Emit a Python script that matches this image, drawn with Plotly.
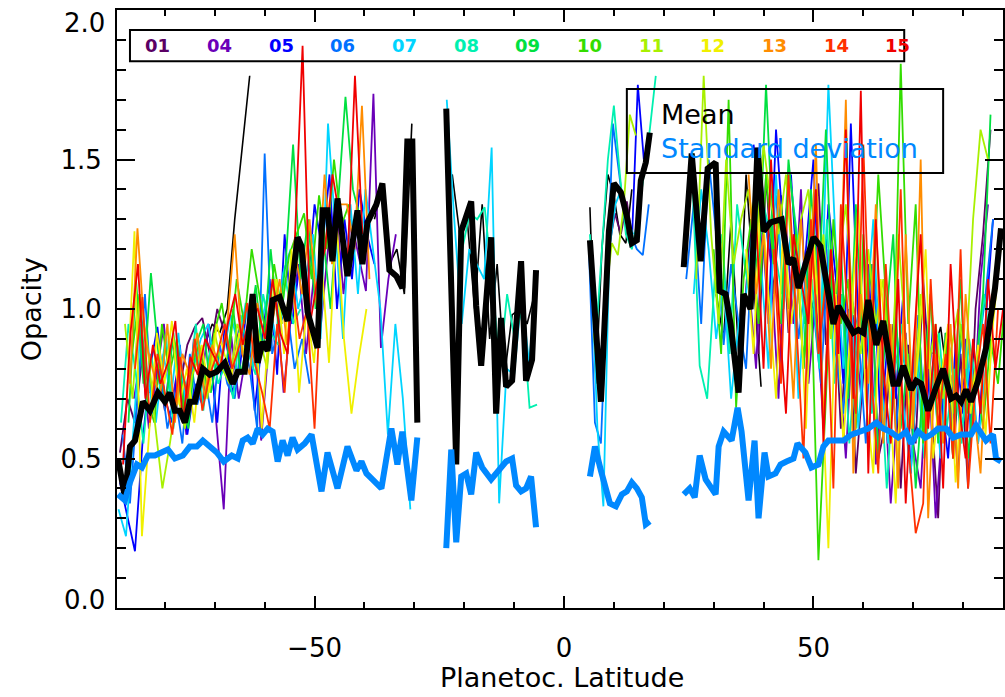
import plotly.graph_objects as go

FONT = "DejaVu Sans"

ORBIT_NAMES = ["01", "04", "05", "06", "07", "08", "09", "10", "11", "12", "13", "14", "15"]
ORBIT_COLORS = ["#5a0064", "#6a00b8", "#0000ff", "#0070ff", "#00d4ff", "#00f0b0", "#00e040",
                "#33dd00", "#a8f000", "#f0f000", "#ff8c00", "#ff3000", "#f00000"]

# Each orbit: list of segments (start latitude, latitude step, opacity values)
S01 = [(-89.0, 1.5, [0.52, 0.70, 0.62, 0.85, 0.72, 0.80, 0.66, 0.90, 0.74, 0.88, 0.94, 0.97, 0.85, 1.00, 0.92, 0.78, 0.95, 0.88, 1.02]),
       (9.0, 1.2, [1.20, 1.32, 1.25, 1.36, 1.22]),
       (36.0, 1.5, [0.95, 1.30, 0.85, 1.45, 1.05, 1.38, 0.92, 1.25, 0.80, 1.18, 1.42, 0.88, 1.10, 0.60, 1.00, 0.45, 0.78, 1.15, 0.50, 0.62, 0.95, 0.40, 0.88, 0.55, 1.10, 0.68, 0.30, 0.92, 0.50, 0.85, 0.40, 1.00, 1.25, 1.60])]
S04 = [(-86.2, 1.5, [0.70, 0.85, 0.60, 0.78, 0.95, 0.68, 0.82, 0.58, 0.90, 0.75, 0.95, 0.62, 0.33, 0.91, 0.70, 0.85, 0.99, 0.56, 0.88, 1.05, 0.72, 0.98, 1.15, 0.85, 1.10, 0.95, 1.22, 1.35, 1.05, 1.30, 1.18, 1.06, 1.72, 0.87, 1.10, 1.25]),
       (37.0, 1.5, [1.10, 0.80, 1.35, 1.15, 0.70, 1.28, 0.95, 1.40, 0.75, 1.05, 0.60, 1.20, 0.85, 0.50, 0.98, 0.72, 1.15, 0.48, 0.80, 0.35, 0.70, 0.92, 0.55, 0.40, 0.85, 0.30, 0.65, 0.78, 0.45, 0.90, 0.60, 1.10, 1.35])]
S05 = [(-89.0, 1.5, [0.42, 0.30, 0.19, 0.55, 0.80, 0.94, 0.70, 0.62, 0.88, 0.58, 0.75, 0.68, 0.85, 0.62, 0.95, 0.72, 0.80, 1.02, 0.66, 0.90, 1.10, 0.78, 1.25, 0.95, 1.15, 1.05, 1.35, 1.20, 1.45, 1.00, 1.30, 1.10, 1.40, 1.25, 1.15]),
       (13.6, 1.2, [1.22, 1.75, 1.50, 1.55]),
       (38.0, 1.5, [1.55, 1.35, 0.95, 1.60, 1.25, 1.45, 1.05, 1.20, 1.50, 0.88, 1.35, 1.10, 0.75, 1.62, 0.95, 0.80, 1.15, 0.60, 0.92, 0.70, 1.05, 0.45, 0.85, 0.62, 0.95, 0.72, 0.50, 0.88, 0.65, 0.80, 0.55, 0.95, 1.30])]
S06 = [(-88.5, 1.5, [0.58, 0.35, 0.70, 1.05, 0.65, 0.80, 0.60, 0.72, 0.55, 0.85, 0.68, 0.78, 0.62, 0.88, 0.75, 0.70, 0.92, 0.80, 0.60, 1.52, 0.85, 0.95, 1.00, 0.80, 0.90, 0.75]),
       (5.0, 1.2, [1.20, 0.62, 0.55, 1.05, 1.62, 1.45, 1.30, 1.25, 1.20, 1.18, 1.35]),
       (24.5, 1.5, [1.10, 1.35, 0.95, 1.50, 1.25, 0.88, 1.15, 0.95, 0.80, 1.30, 1.45, 1.20, 1.38, 1.05, 1.25, 0.90, 1.10, 1.00, 0.75, 1.20, 0.85, 0.65, 1.05, 0.92, 0.55, 1.15, 0.78, 0.95, 0.60, 0.85, 0.70, 0.98, 0.58, 0.82, 0.65, 0.90, 0.72, 0.95, 0.60, 0.85, 1.05, 1.30])]
S07 = [(-89.3, 1.5, [0.33, 0.24, 0.60, 0.95, 0.75, 0.62, 0.85, 0.70, 0.92, 0.66, 0.80, 0.90, 0.95, 0.78, 0.85, 0.98, 0.88, 1.02, 0.80, 0.95, 1.05, 0.90, 1.12, 1.20, 1.00, 1.10, 1.25, 0.90, 1.62, 1.25, 0.90, 1.35, 1.05, 1.40, 1.20, 1.00, 0.58, 0.95, 0.70, 0.33]),
       (-23.5, 1.5, [1.70, 1.30, 0.95, 1.20, 1.15, 1.10, 1.54, 0.35, 0.80, 0.78, 1.05, 0.82, 1.10]),
       (5.5, 1.2, [1.15, 0.60, 0.34, 1.20, 1.35, 1.40, 1.30, 1.25]),
       (26.0, 1.5, [1.05, 1.40, 1.20, 0.90, 1.10, 0.70, 0.95, 1.05, 1.30, 1.15, 0.80, 1.45, 1.00, 1.25, 0.70, 1.10, 1.30, 0.95, 1.75, 1.20, 0.80, 1.05, 0.60, 0.95, 1.30, 0.75, 0.55, 0.92, 0.68, 0.45, 0.85, 0.60, 0.78, 0.50, 0.90, 0.70, 0.62, 0.85, 0.55, 0.80, 1.00])]
S08 = [(-88.8, 1.5, [0.62, 0.95, 0.78, 0.55, 0.85, 0.70, 0.92, 0.60, 0.80, 0.72, 0.95, 0.66, 0.88, 0.75, 0.82, 0.70, 0.98, 0.85, 0.78, 1.05, 0.92, 0.88, 1.10, 0.95, 1.00]),
       (-23.4, 1.5, [1.65, 0.75, 1.20, 1.32, 1.30, 1.34, 1.10, 0.80, 1.05, 0.90, 1.00, 0.67, 0.68]),
       (5.2, 1.2, [1.25, 0.90, 1.20, 1.50, 1.68, 1.45, 1.25, 1.20, 1.30, 1.45, 1.60, 1.78]),
       (24.2, 1.5, [1.20, 1.45, 0.81, 0.70, 1.10, 1.25, 0.85, 1.35, 1.15, 1.00, 1.40, 1.30, 1.20, 1.05, 1.45, 1.25, 0.95, 1.10, 0.80, 1.30, 0.75, 1.05, 0.55, 0.90, 1.20, 0.65, 0.85, 0.40, 0.78, 0.95, 0.60, 0.85, 0.50, 0.72, 0.92, 0.60, 0.80, 0.55, 0.90, 0.75, 1.05, 0.85])]
S09 = [(-87.3, 1.5, [0.62, 1.10, 0.75, 1.12, 0.85, 0.68, 0.92, 0.70, 0.60, 0.88, 0.95, 0.72, 0.85, 0.80, 1.00, 0.78, 0.90, 1.08, 0.85, 1.20, 0.95, 1.15, 1.55, 1.10, 1.30, 1.00, 1.25, 1.00, 1.35, 1.71, 1.40, 1.30]),
       (37.5, 1.5, [1.30, 1.10, 1.75, 1.20, 0.95, 1.50, 1.25, 0.80, 1.40, 1.05, 1.60, 0.95, 1.20, 0.70, 1.35, 0.85, 1.15, 0.50, 0.95, 1.25, 0.60, 0.85, 0.40, 0.75, 1.05, 0.55, 0.92, 0.65, 1.10, 0.50, 0.80, 1.05, 1.65])]
S10 = [(-86.6, 1.5, [0.85, 1.05, 0.70, 0.62, 0.95, 0.78, 0.90, 0.66, 0.82, 0.88, 0.75, 0.92, 1.02, 0.85, 1.10, 0.95, 1.20, 1.05, 0.90, 1.15, 1.00, 1.18, 1.25, 1.32, 1.10, 1.38, 1.20, 1.50, 1.28, 1.35]),
       (30.0, 1.5, [1.20, 0.85, 1.70, 0.67, 1.10, 1.30, 0.95, 1.45, 1.15, 1.35, 1.00, 1.25, 0.80, 1.10, 0.16, 0.70, 1.30, 0.95, 1.10, 0.60, 1.25, 0.85, 1.45, 1.05, 0.75, 1.82, 0.95, 1.35, 0.55, 1.05, 0.70, 0.88, 0.50, 0.95, 0.65, 0.80, 0.60, 0.90, 0.75, 1.05])]
S11 = [(-88.0, 1.5, [0.95, 0.70, 1.05, 0.88, 0.62, 0.40, 0.55, 0.72, 0.60, 0.78, 0.85, 0.70, 0.92, 0.80, 0.75, 0.95, 0.88, 1.02, 0.90, 0.80, 1.10, 0.95]),
       (6.0, 1.2, [0.92, 0.70, 1.05, 1.22, 1.18, 1.35, 1.65, 1.58]),
       (26.5, 1.5, [1.10, 1.78, 1.25, 0.95, 1.50, 1.15, 1.30, 1.40, 1.20, 1.55, 1.35, 1.25, 1.45, 1.10, 1.30, 1.40, 1.05, 1.25, 0.90, 1.15, 1.35, 1.00, 0.85, 1.20, 0.95, 1.10, 0.75, 1.25, 0.90, 0.65, 1.05, 0.80, 0.95, 0.70, 0.85, 1.00, 0.80, 1.30, 1.60, 1.50])]
S12 = [(-87.6, 1.5, [0.70, 1.26, 0.24, 0.60, 0.92, 0.75, 0.96, 0.68, 0.80, 0.62, 0.88, 0.72, 0.95, 0.85, 0.78, 0.92, 0.82, 1.05, 0.60, 0.95, 1.10, 0.85, 1.20, 0.72, 1.00, 0.82, 1.15, 0.82, 1.30, 0.90, 0.65, 0.84, 1.00]),
       (36.5, 1.5, [1.20, 0.85, 1.40, 1.05, 0.70, 1.30, 0.95, 1.15, 0.60, 1.25, 0.85, 0.20, 1.05, 0.55, 0.95, 1.35, 0.70, 0.45, 1.10, 0.80, 0.35, 0.95, 0.60, 0.85, 1.20, 0.50, 0.75, 0.95, 0.42, 0.80, 0.65, 0.88, 0.58, 0.95, 1.20])]
S13 = [(-87.0, 1.5, [0.75, 1.27, 0.90, 0.80, 0.70, 0.95, 0.62, 0.85, 0.78, 0.92, 0.70, 0.88, 0.80, 0.95, 1.25, 0.85, 0.78, 1.02, 0.90, 0.95, 1.10, 0.88, 1.20, 1.05, 1.30, 1.00, 1.45, 1.15, 1.35, 1.35, 1.20, 1.68, 1.10]),
       (37.0, 1.5, [1.45, 1.05, 1.25, 0.80, 1.40, 1.10, 0.70, 1.30, 0.95, 1.55, 0.60, 1.20, 0.85, 1.70, 0.45, 1.05, 0.75, 1.35, 0.55, 0.95, 0.40, 1.25, 0.60, 1.50, 0.30, 0.85, 0.55, 0.95, 0.40, 1.05, 0.70, 0.45, 0.95])]
S14 = [(-86.0, 1.5, [0.80, 1.04, 0.62, 0.85, 0.72, 0.58, 0.84, 0.70, 0.90, 0.66, 0.78, 0.85, 0.95, 0.80, 0.88, 1.02, 0.82, 0.72, 0.60, 0.95, 0.72, 1.10, 0.90, 1.00, 0.60, 1.15]),
       (42.0, 1.5, [1.20, 0.75, 1.45, 0.95, 0.50, 1.30, 0.85, 1.10, 0.40, 1.35, 0.95, 0.65, 1.55, 0.80, 0.45, 1.15, 0.70, 1.40, 0.55, 0.25, 0.35, 1.10, 0.60, 0.85, 0.50, 1.20, 0.40, 0.75, 0.95, 0.55, 1.00])]
S15 = [(-88.4, 1.5, [0.48, 0.92, 1.15, 0.70, 0.88, 0.75, 0.82, 0.96, 0.62, 0.84, 0.78, 0.90, 0.85, 0.80, 0.95, 1.05, 0.88, 0.98, 1.00, 0.90, 1.10, 0.92, 0.85, 1.25, 1.88, 0.95, 1.10, 1.20, 1.45, 1.30, 1.15, 1.78, 1.25]),
       (38.5, 1.5, [1.30, 0.80, 1.50, 1.00, 0.65, 1.25, 1.10, 0.95, 1.40, 0.55, 1.20, 0.85, 1.60, 0.70, 1.73, 0.45, 1.30, 0.80, 0.55, 1.10, 0.35, 0.85, 1.25, 0.60, 0.95, 0.40, 1.15, 0.70, 0.50, 0.90, 0.65, 1.10, 0.80, 1.00])]
S_BLACK = [(-72.0, 1.5, [0.88, 0.95, 0.92, 1.00, 1.30, 1.55, 1.78]),
           (-38.0, 1.5, [1.30, 1.40, 1.15, 1.20, 1.05, 1.62]),
           (-22.4, 1.5, [1.45, 1.25, 1.30, 1.00, 1.35, 0.90, 1.15, 0.78, 0.98, 1.00, 0.95, 1.05]),
           (5.2, 1.2, [1.34, 0.75, 1.20, 1.45, 1.38, 1.25, 1.22, 1.40]),
           (30.5, 1.5, [1.05, 0.90, 1.30, 0.85, 1.45, 1.10, 0.74]),
           (60.5, 1.5, [1.10, 1.14, 0.90]),
           (74.0, 1.5, [0.85, 0.94, 0.75])]
ORBITS = [S01, S04, S05, S06, S07, S08, S09, S10, S11, S12, S13, S14, S15]

MEAN_LAT = [-89.4, -88.0, -87.0, -86.0, -84.4, -83.0, -81.4, -80.0, -79.0, -78.0, -77.0, -76.0, -75.0, -74.0, -72.4, -71.0,
            -69.6, -68.0, -66.4, -65.4, -64.0, -62.4, -61.4, -60.4, -59.4, -58.4, -57.0, -55.4, -53.4, -52.6, -51.4, -49.4,
            -48.4, -47.4, -46.4, -45.4, -43.4, -41.4, -40.4, -39.4, -37.6, -36.4, -35.0, -33.6, -32.4, -31.4, -30.4, -29.4,
            None,
            -23.6, -21.6, -20.6, -18.6, -17.6, -16.6, -14.6, -13.6, -12.6, -11.6, -10.4, -8.6, -7.6, -6.4, -5.6,
            None,
            5.2, 7.4, 9.0, 10.0, 11.4, 12.6, 13.6, 14.6, 15.4, 16.4, 17.2,
            None,
            24.0, 25.6, 27.4, 28.8, 30.4, 31.2, 32.4, 33.4, 35.0, 36.0, 37.4, 38.8, 40.0, 41.4, 43.6, 45.0, 46.0, 47.0, 48.4,
            50.0, 51.4, 53.0, 54.0, 55.0, 56.4, 58.0, 59.0, 60.0, 61.0, 62.6, 64.0, 66.0, 67.0, 68.0, 69.6, 70.6, 71.6, 73.0,
            74.4, 76.0, 77.6, 78.6, 79.6, 80.6, 81.6, 83.0, 84.6, 86.4, 87.6]
MEAN_VAL = [0.50, 0.37, 0.54, 0.56, 0.69, 0.66, 0.72, 0.69, 0.72, 0.66, 0.66, 0.62, 0.69, 0.69, 0.80, 0.78,
            0.79, 0.82, 0.75, 0.79, 0.79, 1.05, 0.82, 0.89, 0.86, 1.03, 1.04, 0.96, 1.24, 1.21, 0.99, 0.87,
            1.33, 1.33, 1.16, 1.37, 1.11, 1.33, 1.15, 1.29, 1.35, 1.42, 1.13, 1.11, 1.07, 1.56, 1.56, 0.62,
            None,
            1.67, 0.48, 1.26, 1.36, 1.01, 0.81, 1.24, 0.65, 0.97, 0.74, 0.76, 1.16, 0.76, 0.83, 1.13,
            None,
            1.23, 0.69, 1.26, 1.42, 1.39, 1.31, 1.22, 1.23, 1.43, 1.49, 1.59,
            None,
            1.14, 1.52, 1.16, 1.47, 1.49, 1.06, 1.05, 0.95, 0.72, 1.05, 1.00, 1.54, 1.26, 1.29, 1.30, 1.15, 1.17, 1.07, 1.15,
            1.24, 1.21, 1.03, 0.95, 1.01, 0.97, 0.92, 0.93, 0.92, 1.03, 0.88, 0.96, 0.75, 0.75, 0.81, 0.73, 0.76, 0.75, 0.66,
            0.73, 0.80, 0.70, 0.71, 0.69, 0.73, 0.69, 0.76, 0.87, 1.07, 1.27]

STD_LAT = [-89.4, -88.0, -87.0, -85.6, -84.6, -83.4, -82.0, -80.6, -79.4, -78.0, -76.4, -75.0, -73.6, -72.4, -71.0, -69.6,
           -68.2, -66.6, -65.4, -64.4, -63.4, -62.4, -61.4, -60.4, -59.4, -58.4, -57.4, -56.4, -55.4, -54.4, -53.4, -52.0,
           -50.6, -48.6, -47.4, -45.4, -43.4, -41.6, -40.6, -39.6, -38.4, -36.6, -34.6, -33.4, -32.4, -30.6, -29.4,
           None,
           -23.6, -22.6, -21.6, -20.6, -19.6, -18.6, -17.6, -16.4, -14.6, -13.0, -11.6, -10.4, -9.6, -8.6, -7.6, -6.6, -5.6,
           None,
           5.2, 6.2, 7.4, 9.2, 10.4, 11.6, 12.6, 13.6, 14.6, 15.6, 16.4, 17.2,
           None,
           24.0, 25.2, 26.2, 27.2, 28.4, 29.6, 30.4, 31.0, 32.0, 33.6, 34.8, 35.6, 37.0, 38.2, 39.0, 40.2, 41.0, 42.4, 43.4,
           44.6, 46.0, 46.8, 48.4, 49.6, 51.0, 52.0, 53.0, 54.4, 56.0, 57.6, 59.4, 61.0, 62.6, 64.0, 65.4, 67.0, 68.6, 69.6,
           71.0, 72.4, 73.6, 75.0, 76.6, 78.0, 79.6, 81.6, 82.6, 84.0, 84.6, 86.0, 86.6, 87.6]
STD_VAL = [0.38, 0.36, 0.42, 0.48, 0.47, 0.51, 0.51, 0.52, 0.53, 0.50, 0.51, 0.54, 0.54, 0.56, 0.54, 0.52,
           0.49, 0.51, 0.50, 0.56, 0.57, 0.55, 0.60, 0.58, 0.60, 0.59, 0.49, 0.56, 0.51, 0.57, 0.53, 0.55,
           0.58, 0.39, 0.52, 0.40, 0.54, 0.46, 0.49, 0.45, 0.43, 0.40, 0.60, 0.48, 0.59, 0.36, 0.57,
           None,
           0.20, 0.53, 0.22, 0.44, 0.45, 0.38, 0.52, 0.47, 0.43, 0.46, 0.49, 0.50, 0.41, 0.39, 0.40, 0.44, 0.27,
           None,
           0.44, 0.54, 0.46, 0.35, 0.34, 0.38, 0.39, 0.42, 0.40, 0.37, 0.28, 0.29,
           None,
           0.38, 0.40, 0.37, 0.51, 0.43, 0.40, 0.38, 0.54, 0.59, 0.56, 0.67, 0.59, 0.36, 0.56, 0.30, 0.52, 0.44, 0.45, 0.48,
           0.49, 0.50, 0.55, 0.52, 0.47, 0.48, 0.54, 0.56, 0.56, 0.56, 0.58, 0.59, 0.60, 0.62, 0.60, 0.59, 0.57, 0.59, 0.55,
           0.59, 0.57, 0.58, 0.60, 0.60, 0.57, 0.58, 0.58, 0.61, 0.58, 0.56, 0.58, 0.50, 0.49]

X_TICKS = [-50, 0, 50]
Y_TICKS = [0.0, 0.5, 1.0, 1.5, 2.0]
Y_TICK_TEXT = ["", "0.5", "1.0", "1.5", ""]


def build(segments):
    xs, ys = [], []
    for k, (start, step, vals) in enumerate(segments):
        if k:
            xs.append(None)
            ys.append(None)
        for i, v in enumerate(vals):
            xs.append(round(start + step * i, 3))
            ys.append(v)
    return xs, ys


fig = go.Figure()

bx, by = build(S_BLACK)
fig.add_trace(go.Scatter(x=bx, y=by, mode="lines", line=dict(color="black", width=1.6),
                         showlegend=False, hoverinfo="skip"))
for name, color, segs in zip(ORBIT_NAMES, ORBIT_COLORS, ORBITS):
    xs, ys = build(segs)
    fig.add_trace(go.Scatter(x=xs, y=ys, mode="lines", name=name,
                             line=dict(color=color, width=1.8), showlegend=False))

fig.add_trace(go.Scatter(x=MEAN_LAT, y=MEAN_VAL, mode="lines", name="Mean",
                         line=dict(color="black", width=6), showlegend=False))
fig.add_trace(go.Scatter(x=STD_LAT, y=STD_VAL, mode="lines", name="Standard deviation",
                         line=dict(color="#0088ff", width=6), showlegend=False))

# Orbit legend box
fig.add_shape(type="rect", xref="x", yref="y", x0=-87.0, x1=68.2, y0=1.829, y1=1.933,
              line=dict(color="black", width=2))
for k, (name, color) in enumerate(zip(ORBIT_NAMES, ORBIT_COLORS)):
    fig.add_annotation(x=-81.4 + 12.36 * k, y=1.881, xref="x", yref="y", text="<b>%s</b>" % name,
                       showarrow=False, font=dict(family=FONT, size=18, color=color),
                       xanchor="center", yanchor="middle")

# Mean / std legend box
fig.add_shape(type="rect", xref="x", yref="y", x0=12.6, x1=76.0, y0=1.455, y1=1.736,
              line=dict(color="black", width=2))
fig.add_annotation(x=19.0, y=1.649, xref="x", yref="y", text="Mean", showarrow=False,
                   font=dict(family=FONT, size=27, color="black"), xanchor="left", yanchor="middle")
fig.add_annotation(x=19.0, y=1.538, xref="x", yref="y", text="Standard deviation", showarrow=False,
                   font=dict(family=FONT, size=27, color="#0088ff"), xanchor="left", yanchor="middle")

# Edge tick labels (placed as in the reference)
fig.add_annotation(x=-0.011, y=0.0 + 0.027, xref="paper", yref="y", text="0.0", showarrow=False,
                   font=dict(family=FONT, size=26, color="black"), xanchor="right", yanchor="middle")
fig.add_annotation(x=-0.011, y=2.0 - 0.045, xref="paper", yref="y", text="2.0", showarrow=False,
                   font=dict(family=FONT, size=26, color="black"), xanchor="right", yanchor="middle")

# Axis titles
fig.add_annotation(x=(563 - 117) / 888, y=-0.117, xref="paper", yref="paper", text="Planetoc. Latitude",
                   showarrow=False, font=dict(family=FONT, size=27, color="black"),
                   xanchor="center", yanchor="middle")
fig.add_annotation(x=-(117 - 31) / 888, y=0.5, xref="paper", yref="paper", text="Opacity",
                   showarrow=False, textangle=-90, font=dict(family=FONT, size=27, color="black"),
                   xanchor="center", yanchor="middle")

fig.update_layout(
    width=1005, height=697,
    margin=dict(l=117, r=0, t=10, b=89),
    paper_bgcolor="white", plot_bgcolor="white",
    font=dict(family=FONT, size=26, color="black"),
    showlegend=False,
    xaxis=dict(range=[-89.6, 88.0], tickvals=X_TICKS, ticks="inside", ticklen=12, tickwidth=1.5,
               tickcolor="black", showline=True, linecolor="black", linewidth=2, mirror="ticks",
               showgrid=False, zeroline=False, ticklabelstandoff=16,
               tickfont=dict(family=FONT, size=26, color="black"),
               minor=dict(dtick=10, tick0=0, ticks="inside", ticklen=6, tickwidth=1.5, tickcolor="black",
                          showgrid=False)),
    yaxis=dict(range=[0, 2], tickvals=Y_TICKS, ticktext=Y_TICK_TEXT, ticks="inside", ticklen=18,
               tickwidth=1.5, tickcolor="black", showline=True, linecolor="black", linewidth=2,
               mirror="ticks", showgrid=False, zeroline=False, ticklabelstandoff=8,
               tickfont=dict(family=FONT, size=26, color="black"),
               minor=dict(dtick=0.1, tick0=0, ticks="inside", ticklen=9, tickwidth=1.5, tickcolor="black",
                          showgrid=False)),
)

fig.write_html("out.html")
